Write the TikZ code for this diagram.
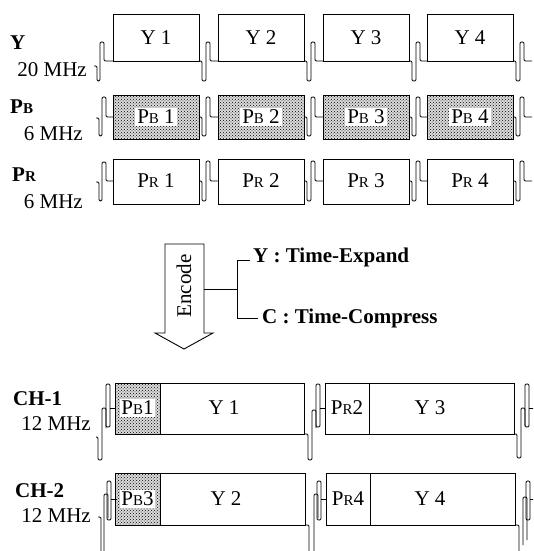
\documentclass[tikz,border=0pt]{standalone}
\usepackage{fontspec}
\setmainfont{Liberation Serif}
\usetikzlibrary{patterns}
\newcommand\smB{{\fontsize{15}{15}\selectfont B}}
\newcommand\smR{{\fontsize{15}{15}\selectfont R}}
\begin{document}
\begin{tikzpicture}[x=1pt,y=-1pt,
  font=\fontsize{21}{23}\selectfont,
  line/.style={line width=0.9pt},
  wave/.style={line width=0.9pt, rounded corners=1.2pt},
  box/.style={line width=0.8pt},
  shade/.style={preaction={fill=black!14}, pattern=crosshatch dots, pattern color=black},
  lbl/.style={font=\fontsize{21}{23}\selectfont\bfseries, inner sep=0pt},
  txt/.style={inner sep=0pt},
  wtxt/.style={fill=white, inner xsep=2pt, inner ysep=2pt}]
\useasboundingbox (0,0) rectangle (533,551);
\clip (0,0) rectangle (533,551);

% ---------- left labels
\node[lbl, anchor=base west] (ly) at (10,50) {Y};
\node[txt, anchor=base east] (fy) at (87,76) {20 MHz};
\node[lbl, anchor=base west] (lpb) at (10,113) {P\smB};
\node[txt, anchor=base east] (fpb) at (83,140) {6 MHz};
\node[lbl, anchor=base west] (lpr) at (12,181) {P\smR};
\node[txt, anchor=base east] (fpr) at (83,208) {6 MHz};
\node[lbl, anchor=base west] (lc1) at (13,405) {CH-1};
\node[txt, anchor=base east] (fc1) at (91,430) {12 MHz};
\node[lbl, anchor=base west] (lc2) at (15,497) {CH-2};
\node[txt, anchor=base east] (fc2) at (91,522) {12 MHz};

% ---------- Y row
\draw[wave] (94,66) -- (97,66) -- (97,81) -- (100,81) -- (100,42) -- (104,42) -- (104,61) -- (113,61);
\foreach \x [count=\i] in {113,218,323,427} {
  \draw[box] (\x,14) rectangle ++(86,47);
  \node[txt] (y\i) at (\x+43,38) {Y \i};
  \draw[wave] (\x+86,61) -- ++(3,0) -- ++(0,20) -- ++(4,0) -- ++(0,-39) -- ++(4,0) -- ++(0,19) -- ++(8,0);
}

% ---------- PB row
\draw[wave] (96,118) -- (99,118) -- (99,136) -- (102,136) -- (102,97) -- (106,97) -- (106,117) -- (113,117);
\foreach \x [count=\i] in {113,218,323,427} {
  \draw[box, shade] (\x,95) rectangle ++(86,44);
  \node[wtxt] (pb\i) at (\x+43,117) {P\smB\ \i};
  \draw[wave] (\x+86,117) -- ++(3,0) -- ++(0,19) -- ++(4,0) -- ++(0,-39) -- ++(4,0) -- ++(0,20) -- ++(8,0);
}

% ---------- PR row
\draw[wave] (96,182) -- (99,182) -- (99,201) -- (102,201) -- (102,162) -- (106,162) -- (106,181) -- (113,181);
\foreach \x [count=\i] in {113,218,323,427} {
  \draw[box] (\x,159) rectangle ++(86,45);
  \node[txt] (pr\i) at (\x+43,181) {P\smR\ \i};
  \draw[wave] (\x+86,181) -- ++(3,0) -- ++(0,20) -- ++(4,0) -- ++(0,-40) -- ++(4,0) -- ++(0,20) -- ++(8,0);
}

% ---------- Encode arrow and bracket
\draw[line, fill=white] (165,244) -- (204,244) -- (204,333) -- (213,333) -- (184,349) -- (155,333) -- (165,333) -- cycle;
\node[rotate=90] (enc) at (184,286) {Encode};
\coordinate (ar) at (204,289);
\coordinate (bm) at (237,289);
\coordinate (bt) at (237,260);
\coordinate (bb) at (237,318);
\node[lbl, anchor=west] (te) at (253,257) {Y : Time-Expand};
\node[lbl, anchor=west] (tc) at (262,318) {C : Time-Compress};
\draw[line] (ar) -- (bm);
\draw[line] (te.west |- bt) ++(-3,0) -- (bt) -- (bb) -- ([xshift=-4pt]tc.west);

% ---------- CH-1 row
\draw[box, shade] (115,383) rectangle (160,434);
\draw[box] (160,383) rectangle (304,434);
\draw[box] (325,383) rectangle (369,434);
\draw[box] (369,383) rectangle (514,434);
\node[wtxt, inner xsep=1pt] (c1a) at (137.5,408) {P\smB 1};
\node[txt] (c1b) at (224,408) {Y 1};
\node[txt] (c1c) at (347,408) {P\smR 2};
\node[txt] (c1d) at (430,408) {Y 3};
\draw[wave] (96,437) -- (98,437) -- (98,460) -- (102,460) -- (102,408) -- (106,408) -- (106,428);
\draw[wave] (304,434) -- (308,434) -- (308,460) -- (312,460) -- (312,410) -- (316,410) -- (316,428);
\draw[wave] (514,434) -- (517,434) -- (517,458) -- (521,458) -- (521,408) -- (525,408) -- (525,426);
\foreach \x in {106,316,525} {
  \draw[wave] (\x,384) rectangle ++(4,43);
  \draw[line] (\x+4,408) -- ++(6,0);
}

% ---------- CH-2 row
\draw[box, shade] (115,473) rectangle (160,525);
\draw[box] (160,473) rectangle (305,525);
\draw[box] (326,473) rectangle (370,525);
\draw[box] (370,473) rectangle (515,525);
\node[wtxt, inner xsep=1pt] (c2a) at (137.5,499) {P\smB 3};
\node[txt] (c2b) at (226,499) {Y 2};
\node[txt] (c2c) at (348,499) {P\smR 4};
\node[txt] (c2d) at (430,499) {Y 4};
\draw[wave] (98,517) -- (101,517) -- (101,560);
\draw[wave] (104,560) -- (104,494) -- (108,494) -- (108,518);
\draw[wave] (305,525) -- (309,525) -- (309,560);
\draw[wave] (314,560) -- (314,494) -- (318,494) -- (318,518);
\draw[wave] (515,525) -- (519,525) -- (519,560);
\draw[wave] (523,545) -- (523,497) -- (527,497) -- (527,540);
\foreach \x in {107,317,526} {
  \draw[wave] (\x,481) rectangle ++(4,39);
  \draw[line] (\x+4,499) -- ++(6,0);
}
\end{tikzpicture}
\end{document}
